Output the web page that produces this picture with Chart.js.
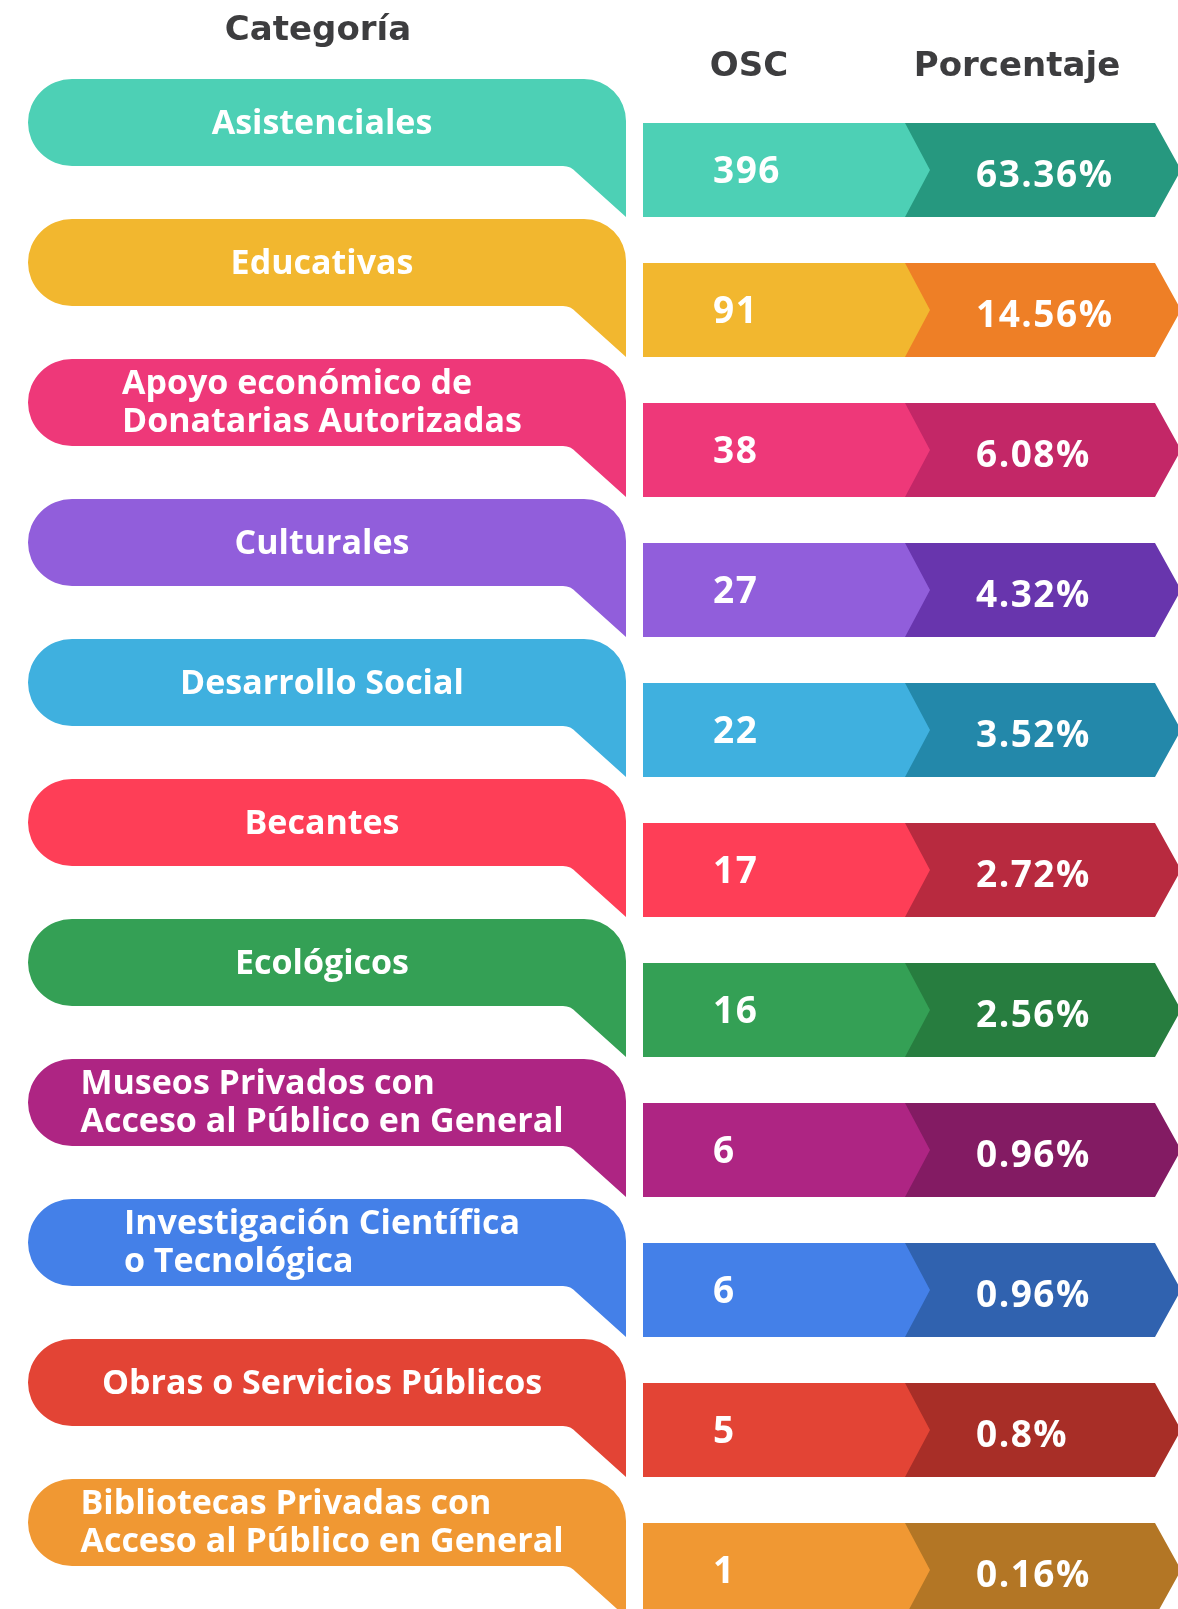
<!DOCTYPE html>
<html lang="es">
<head>
<meta charset="utf-8">
<title>OSC por categoría</title>
<script src="https://cdn.jsdelivr.net/npm/chart.js@4/dist/chart.umd.min.js"></script>
<style>
  html, body { margin: 0; padding: 0; background: #ffffff; overflow: hidden; }
  #wrap { width: 1178px; height: 1618px; }
  canvas { display: block; }
</style>
</head>
<body>
<div id="wrap"><canvas id="chart" width="1178" height="1618"></canvas></div>
<script>
// ---- data ----
const categories = [
  ["Asistenciales"],
  ["Educativas"],
  ["Apoyo económico de", "Donatarias Autorizadas"],
  ["Culturales"],
  ["Desarrollo Social"],
  ["Becantes"],
  ["Ecológicos"],
  ["Museos Privados con", "Acceso al Público en General"],
  ["Investigación Científica", "o Tecnológica"],
  ["Obras o Servicios Públicos"],
  ["Bibliotecas Privadas con", "Acceso al Público en General"]
];
const oscCounts = [396, 91, 38, 27, 22, 17, 16, 6, 6, 5, 1];
const percentages = [63.36, 14.56, 6.08, 4.32, 3.52, 2.72, 2.56, 0.96, 0.96, 0.8, 0.16];
const headerCategory = "Categoría";
const headerOsc = "OSC";
const headerPercent = "Porcentaje";

// ---- styles ----
const baseColors = ["#4DD0B5", "#F2B72F", "#EE3879", "#915EDB", "#3FB0DF", "#FE3E57",
                    "#34A055", "#AE2583", "#4480E8", "#E34435", "#F09833"];
const darkColors = ["#26987F", "#EE7F26", "#C32767", "#6835AD", "#2388AA", "#B82A3F",
                    "#277D3F", "#831B63", "#3062AF", "#A82E27", "#B37625"];

const layout = {
  bubbleLeft: 28, bubbleRight: 626, tailStart: 571, labelCenter: 322,
  cellLeft: 643, cellSplit: 905, cellPoint: 930, cellRight: 1155, cellTip: 1181,
  numX: 713, pctX: 976,
  headerColor: "#3d3d3f"
};

const infographicPlugin = {
  id: "infographic",
  afterDatasetsDraw(chart) {
    const ctx = chart.ctx;
    const ys = chart.scales.y, xs = chart.scales.x;
    const X = v => xs.getPixelForValue(v);
    const L = layout;

    // headers
    ctx.save();
    ctx.fillStyle = L.headerColor;
    ctx.font = "700 34px 'DejaVu Sans'";
    ctx.textAlign = "center";
    ctx.textBaseline = "alphabetic";
    ctx.fillText(headerCategory, X(318), 40);
    ctx.fillText(headerOsc, X(749), 76);
    ctx.fillText(headerPercent, X(1017), 76);
    ctx.restore();

    categories.forEach((lines, i) => {
      const c = ys.getPixelForValue(i);
      const top = c - 69, rb = c + 18, tb = c + 69;
      const left = X(L.bubbleLeft), right = X(L.bubbleRight), ts = X(L.tailStart);
      const h = rb - top;
      const rL = 44, rR = 42;

      // speech bubble
      ctx.save();
      ctx.fillStyle = baseColors[i];
      ctx.beginPath();
      ctx.moveTo(left + rL, top);
      ctx.lineTo(right - rR, top);
      ctx.arcTo(right, top, right, top + rR, rR);
      ctx.lineTo(right, tb);
      ctx.lineTo(ts + 5, rb + 6);
      ctx.quadraticCurveTo(ts, rb, ts - 8, rb);
      ctx.lineTo(left + rL, rb);
      ctx.ellipse(left + rL, top + h / 2, rL, h / 2, 0, Math.PI / 2, Math.PI * 1.5, false);
      ctx.closePath();
      ctx.fill();

      // label text
      ctx.fillStyle = "#ffffff";
      ctx.font = "700 34px 'Open Sans'";
      ctx.textBaseline = "alphabetic";
      if (lines.length === 1) {
        ctx.textAlign = "center";
        ctx.fillText(lines[0], X(L.labelCenter), c - 14);
      } else {
        const w = Math.max(...lines.map(t => ctx.measureText(t).width));
        ctx.textAlign = "left";
        const lx = X(L.labelCenter) - w / 2;
        ctx.fillText(lines[0], lx, c - 34);
        ctx.fillText(lines[1], lx, c + 4);
      }

      // value cells
      const ct = c - 25, cb = c + 69, cm = c + 22;
      ctx.fillStyle = baseColors[i];
      ctx.beginPath();
      ctx.moveTo(X(L.cellLeft), ct);
      ctx.lineTo(X(L.cellSplit) + 1, ct);
      ctx.lineTo(X(L.cellPoint) + 1, cm);
      ctx.lineTo(X(L.cellSplit) + 1, cb);
      ctx.lineTo(X(L.cellLeft), cb);
      ctx.closePath();
      ctx.fill();

      ctx.fillStyle = darkColors[i];
      ctx.beginPath();
      ctx.moveTo(X(L.cellSplit), ct);
      ctx.lineTo(X(L.cellRight), ct);
      ctx.lineTo(X(L.cellTip), cm);
      ctx.lineTo(X(L.cellRight), cb);
      ctx.lineTo(X(L.cellSplit), cb);
      ctx.lineTo(X(L.cellPoint), cm);
      ctx.closePath();
      ctx.fill();

      ctx.fillStyle = "#ffffff";
      ctx.font = "700 37px 'Open Sans'";
      ctx.textAlign = "left";
      ctx.letterSpacing = "1.5px";
      ctx.fillText(String(oscCounts[i]), X(L.numX), c + 35);
      ctx.fillText(String(percentages[i]) + "%", X(L.pctX), c + 39);
      ctx.restore();
    });
  }
};

new Chart(document.getElementById("chart"), {
  type: "bar",
  data: {
    labels: categories,
    datasets: [{
      label: "OSC",
      data: oscCounts,
      backgroundColor: "rgba(0,0,0,0)",
      borderWidth: 0
    }]
  },
  options: {
    indexAxis: "y",
    responsive: false,
    devicePixelRatio: 1,
    animation: false,
    layout: { padding: { top: 78, bottom: 0, left: 0, right: 0 } },
    plugins: { legend: { display: false }, tooltip: { enabled: false } },
    scales: {
      y: { type: "category", display: false, offset: true },
      x: { type: "linear", display: false, min: 0, max: 1178 }
    }
  },
  plugins: [infographicPlugin]
});
</script>
</body>
</html>
